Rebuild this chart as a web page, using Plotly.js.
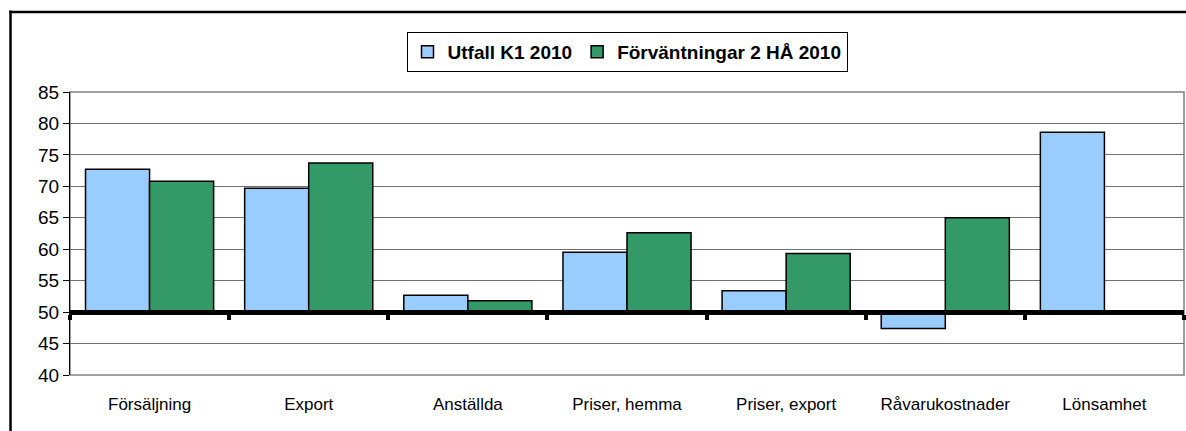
<!DOCTYPE html>
<html>
<head>
<meta charset="utf-8">
<script src="https://cdn.plot.ly/plotly-3.0.1.min.js"></script>
<style>
html,body{margin:0;padding:0;background:#fff;}
#chart{width:1186px;height:431px;}
</style>
</head>
<body>
<div id="chart"></div>
<script>
var categories = ["Försäljning", "Export", "Anställda", "Priser, hemma", "Priser, export", "Råvarukostnader", "Lönsamhet"];
var utfallK1 = [72.7, 69.7, 52.7, 59.5, 53.4, 47.4, 78.6];
var forvantningar = [70.8, 73.7, 51.8, 62.6, 59.3, 65.0, null];
var seriesNames = ["Utfall K1 2010", "Förväntningar 2 HÅ 2010"];
var baseValue = 50;
var yTicks = [40, 45, 50, 55, 60, 65, 70, 75, 80, 85];

function rel(arr){ return arr.map(function(v){ return v === null ? null : v - baseValue; }); }

var font = "Liberation Sans, Arial, sans-serif";

var traces = [
  {type:"bar", name:seriesNames[0], x:categories, y:rel(utfallK1), base:baseValue,
   customdata:utfallK1, hovertemplate:"%{x}: %{customdata}<extra></extra>",
   marker:{color:"#99CCFF", line:{color:"#000", width:1.5}}},
  {type:"bar", name:seriesNames[1], x:categories, y:rel(forvantningar), base:baseValue,
   customdata:forvantningar, hovertemplate:"%{x}: %{customdata}<extra></extra>",
   marker:{color:"#339966", line:{color:"#000", width:1.5}}},
  {type:"scatter", mode:"lines", x:categories, y:categories.map(function(){return baseValue;}),
   xaxis:"x2", yaxis:"y", line:{width:0}, showlegend:false, hoverinfo:"skip"}
];

var layout = {
  width:1186, height:431,
  margin:{l:70, r:2, t:92, b:56},
  paper_bgcolor:"#fff", plot_bgcolor:"#fff",
  font:{family:font, color:"#000"},
  barmode:"group", bargap:0.195, bargroupgap:0,
  showlegend:true,
  legend:{orientation:"h", x:0.5, xanchor:"center", y:1.212, yanchor:"top",
          font:{family:font, size:19, weight:"bold", color:"#000"},
          bordercolor:"#000", borderwidth:1, bgcolor:"#fff",
          traceorder:"normal", itemwidth:30, tracegroupgap:0},
  xaxis:{type:"category", categoryarray:categories, categoryorder:"array",
         range:[-0.5, 6.5], showgrid:false, zeroline:false, showline:false,
         ticks:"", ticklabelstandoff:17,
         tickfont:{family:font, size:17, color:"#000"}, fixedrange:true},
  xaxis2:{type:"category", categoryarray:categories, categoryorder:"array",
          matches:"x", overlaying:"x", anchor:"free", position:(baseValue-40)/45,
          range:[-0.5, 6.5], showgrid:false, zeroline:false,
          showline:true, linecolor:"#000", linewidth:4.5, layer:"above traces",
          ticks:"outside", tickson:"boundaries", ticklen:5, tickwidth:3.5, tickcolor:"#000",
          showticklabels:false, fixedrange:true},
  yaxis:{range:[40, 85], tickvals:yTicks, ticktext:yTicks.map(String),
         showgrid:true, gridcolor:"#707070", gridwidth:1, zeroline:false,
         showline:true, linecolor:"#000", linewidth:1,
         ticks:"outside", ticklen:6, tickcolor:"#000",
         tickfont:{family:font, size:19, color:"#000"}, fixedrange:true},
  shapes:[
    {type:"rect", xref:"paper", yref:"paper", x0:0, x1:1, y0:0, y1:1,
     line:{color:"#808080", width:1.5}, layer:"below"},
    {type:"line", xref:"paper", yref:"paper", x0:-0.0534, x1:-0.0534, y0:-0.3, y1:1.288,
     line:{color:"#000", width:2.5}},
    {type:"line", xref:"paper", yref:"paper", x0:-0.0545, x1:1.05, y0:1.283, y1:1.283,
     line:{color:"#000", width:2.5}}
  ]
};

Plotly.newPlot("chart", traces, layout, {displayModeBar:false, staticPlot:false});
</script>
</body>
</html>
